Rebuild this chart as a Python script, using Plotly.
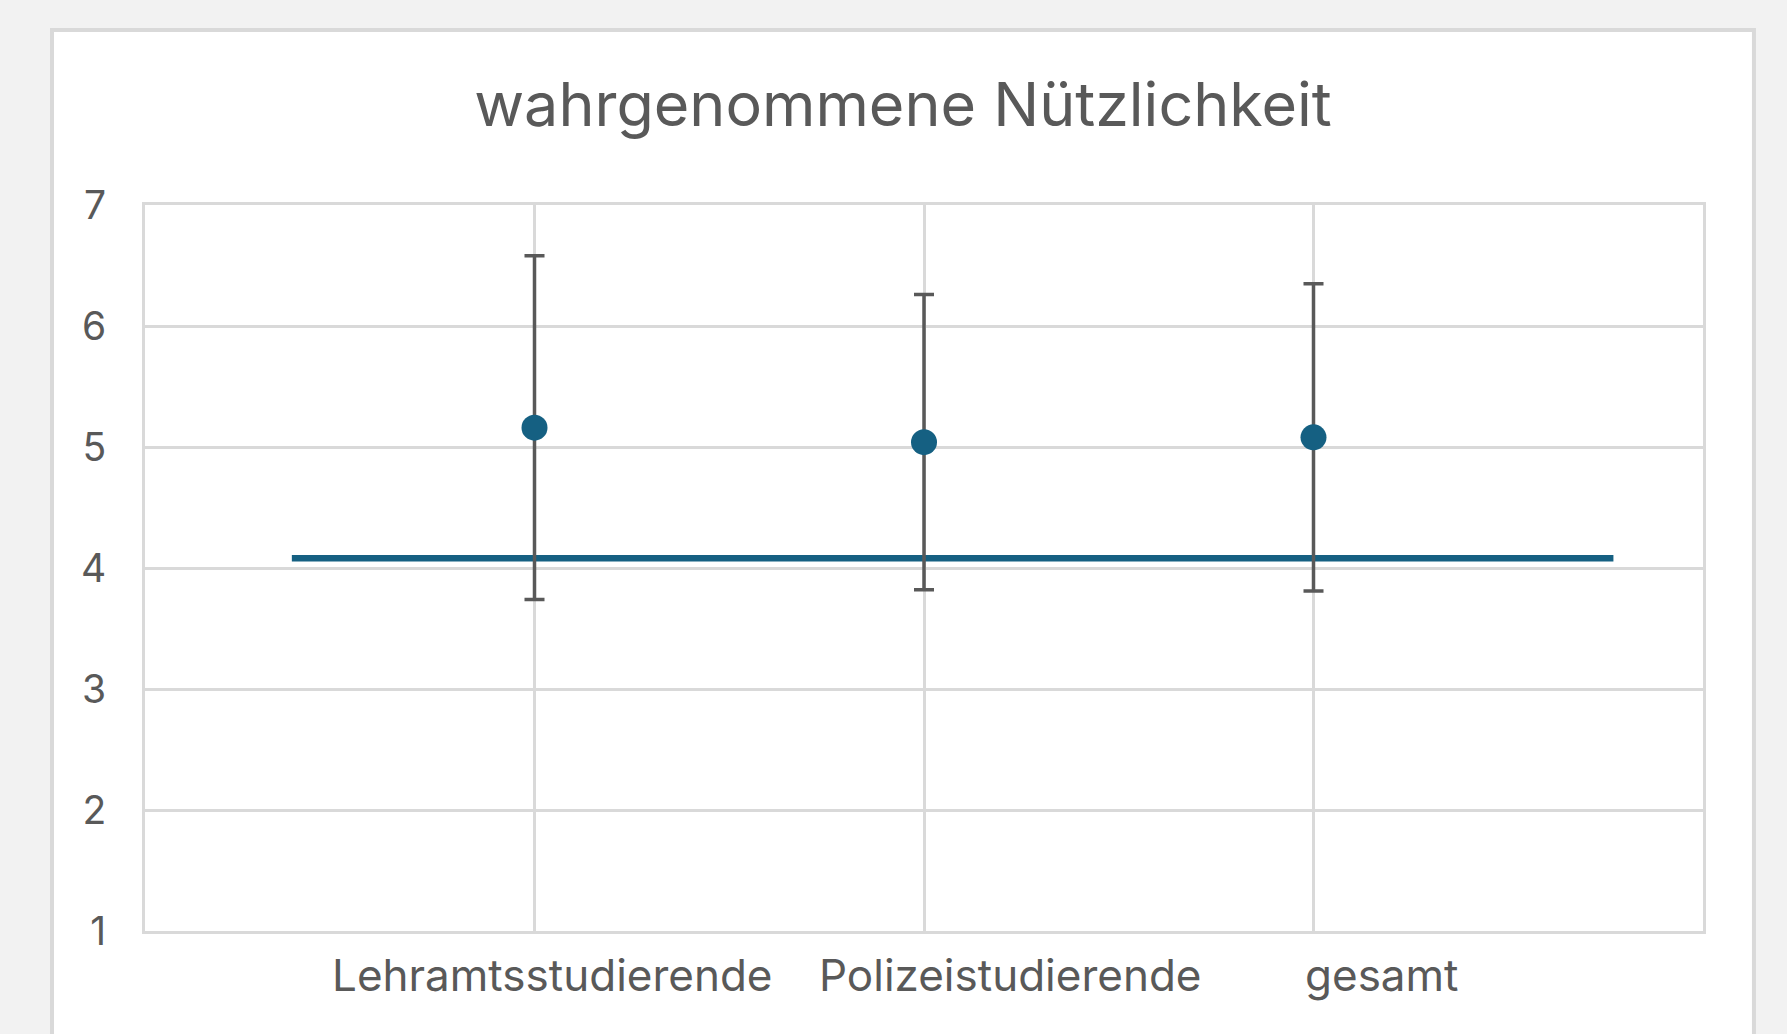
import plotly.graph_objects as go

# ---- data ----
categories = ["Lehramtsstudierende", "Polizeistudierende", "gesamt"]
cat_x = [1, 2, 3]
means = [5.16, 5.04, 5.08]
sds = [1.42, 1.22, 1.27]
ref_x = [0.377, 3.77]
ref_y = [4.08, 4.08]
label_x = [1.047, 2.221, 3.177]
y_ticks = [1, 2, 3, 4, 5, 6, 7]
title_text = "wahrgenommene Nützlichkeit"

FONT = "Inter"
TXT = "#595959"
GRID = "#d9d9d9"
BLUE = "#156082"

fig = go.Figure()

fig.add_trace(go.Scatter(
    x=ref_x, y=ref_y, mode="lines",
    line=dict(color=BLUE, width=6.5), hoverinfo="skip", showlegend=False))

fig.add_trace(go.Scatter(
    x=cat_x, y=means, mode="markers",
    marker=dict(color=BLUE, size=26),
    error_y=dict(type="data", array=sds, visible=True,
                 color="#595959", thickness=3.5, width=10),
    showlegend=False))

for lx, lab in zip(label_x, categories):
    fig.add_annotation(x=lx, xref="x", y=-0.0606, yref="paper",
                       text=lab, showarrow=False, xanchor="center", yanchor="middle",
                       font=dict(family=FONT, size=44, color=TXT))

# card background
fig.add_shape(type="rect", xref="paper", yref="paper",
              x0=-0.0597, x1=1.0327, y0=-0.3, y1=1.241,
              fillcolor="white", line=dict(color=GRID, width=4), layer="below")

fig.update_layout(
    width=1787, height=1034,
    margin=dict(l=145, r=84, t=205, b=103),
    paper_bgcolor="#f2f2f2",
    plot_bgcolor="rgba(0,0,0,0)",
    title=dict(text=title_text, x=0.4865, xref="paper", xanchor="center",
               y=1 - 105 / 1034, yref="container", yanchor="middle",
               font=dict(family=FONT, size=61, color=TXT)),
    xaxis=dict(range=[0, 4], tickvals=cat_x, showticklabels=False,
               showgrid=True, gridcolor=GRID, gridwidth=3,
               showline=True, linecolor=GRID, linewidth=3, mirror=True,
               zeroline=False, fixedrange=True),
    yaxis=dict(range=[1, 7], tickvals=y_ticks, showgrid=True, gridcolor=GRID, gridwidth=3,
               showline=True, linecolor=GRID, linewidth=3, mirror=True,
               zeroline=False, ticks="", ticklabelstandoff=28,
               tickfont=dict(family=FONT, size=39, color=TXT)),
    font=dict(family=FONT, color=TXT),
)

fig.write_html(
    "out.html",
    config={"displayModeBar": False},
    post_script="document.body.style.margin='0';document.body.style.background='#f2f2f2';",
)
